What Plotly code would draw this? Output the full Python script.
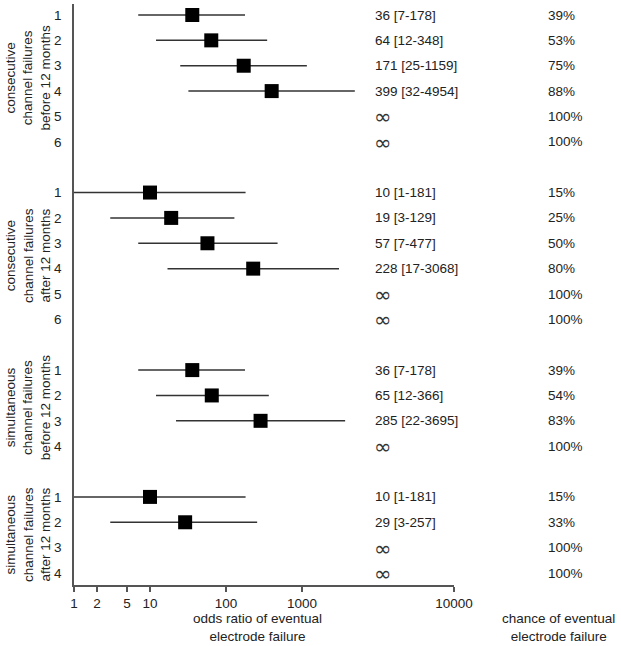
import plotly.graph_objects as go

# ---------------- data ----------------
group_labels = [
    "consecutive<br>channel failures<br>before 12 months",
    "consecutive<br>channel failures<br>after 12 months",
    "simultaneous<br>channel failures<br>before 12 months",
    "simultaneous<br>channel failures<br>after 12 months",
]
# None = infinite odds ratio
g1_or = [36, 64, 171, 399, None, None]
g1_lo = [7, 12, 25, 32, None, None]
g1_hi = [178, 348, 1159, 4954, None, None]
g1_pct = [39, 53, 75, 88, 100, 100]

g2_or = [10, 19, 57, 228, None, None]
g2_lo = [1, 3, 7, 17, None, None]
g2_hi = [181, 129, 477, 3068, None, None]
g2_pct = [15, 25, 50, 80, 100, 100]

g3_or = [36, 65, 285, None]
g3_lo = [7, 12, 22, None]
g3_hi = [178, 366, 3695, None]
g3_pct = [39, 54, 83, 100]

g4_or = [10, 29, None, None]
g4_lo = [1, 3, None, None]
g4_hi = [181, 257, None, None]
g4_pct = [15, 33, 100, 100]

x_tick_values = [1, 2, 5, 10, 100, 1000, 100000]
x_tick_labels = ["1", "2", "5", "10", "100", "1000", "10000"]
x_title = "odds ratio of eventual<br>electrode failure"
pct_title = "chance of eventual<br>electrode failure"

groups = [
    (g1_or, g1_lo, g1_hi, g1_pct),
    (g2_or, g2_lo, g2_hi, g2_pct),
    (g3_or, g3_lo, g3_hi, g3_pct),
    (g4_or, g4_lo, g4_hi, g4_pct),
]

# ---------------- build ----------------
FONT = "Liberation Sans, Arial, sans-serif"
TXT = "#222222"
AX = "#555555"
W, H = 621, 646
L, R, T, B = 74, 167, 4, 61
PW = W - L - R
PH = H - T - B


def px_x(px):
    return (px - L) / PW


def px_y(py):
    return 1 - (py - T) / PH


fig = go.Figure()

slot = 0
ytickvals, yticktext = [], []
pts_x, pts_y, err_p, err_m = [], [], [], []
annotations = []
for gi, (orv, lo, hi, pct) in enumerate(groups):
    start = slot
    for i in range(len(orv)):
        ytickvals.append(slot)
        yticktext.append(str(i + 1))
        if orv[i] is not None:
            pts_x.append(orv[i])
            pts_y.append(slot)
            err_p.append(hi[i] - orv[i])
            err_m.append(orv[i] - lo[i])
            label = f"{orv[i]} [{lo[i]}-{hi[i]}]"
            annotations.append(dict(x=px_x(373), y=slot, xref="paper", yref="y",
                                    text=label, showarrow=False, xanchor="left",
                                    yanchor="middle", font=dict(size=13.5, color=TXT)))
        else:
            annotations.append(dict(x=px_x(372), y=slot + 0.04, xref="paper", yref="y",
                                    text="∞", showarrow=False, xanchor="left",
                                    yanchor="middle", font=dict(size=21, color="#333333",
                                                                family="DejaVu Sans")))
        annotations.append(dict(x=px_x(546), y=slot, xref="paper", yref="y",
                                text=f"{pct[i]}%", showarrow=False, xanchor="left",
                                yanchor="middle", font=dict(size=13.5, color=TXT)))
        slot += 1
    end = slot - 1
    annotations.append(dict(x=px_x(28), y=(start + end) / 2, xref="paper", yref="y",
                            text=group_labels[gi], showarrow=False, textangle=-90,
                            xanchor="center", yanchor="middle",
                            font=dict(size=13.5, color=TXT)))
    slot += 1  # blank row between groups

n_slots = slot - 1

fig.add_trace(go.Scatter(
    x=pts_x, y=pts_y, mode="markers",
    marker=dict(symbol="square", size=14, color="black"),
    error_x=dict(type="data", symmetric=False, array=err_p, arrayminus=err_m,
                 width=0, thickness=1.5, color="#333333"),
    showlegend=False, cliponaxis=False,
))

annotations.append(dict(x=px_x(257), y=px_y(627), xref="paper", yref="paper",
                        text=x_title, showarrow=False, xanchor="center",
                        yanchor="middle", font=dict(size=13.5, color=TXT)))
annotations.append(dict(x=px_x(558), y=px_y(627), xref="paper", yref="paper",
                        text=pct_title, showarrow=False, xanchor="center",
                        yanchor="middle", font=dict(size=13.5, color=TXT)))

row_px = (573 - 15) / (n_slots - 1)
top_pad = (15 - T) / row_px
bot_pad = (585 - 573) / row_px

fig.update_layout(
    width=W, height=H,
    margin=dict(l=L, r=R, t=T, b=B, pad=0),
    paper_bgcolor="white", plot_bgcolor="white",
    font=dict(family=FONT, size=13.5, color=TXT),
    showlegend=False,
    annotations=annotations,
    xaxis=dict(type="log", range=[0, 5], tickvals=x_tick_values, ticktext=x_tick_labels,
               showgrid=False, zeroline=False, showline=True, linecolor=AX, linewidth=1.5,
               ticks="outside", ticklen=5, tickcolor=AX, tickwidth=1.5,
               tickfont=dict(size=13.5, color=TXT)),
    yaxis=dict(range=[n_slots - 1 + bot_pad, -top_pad], tickvals=ytickvals,
               ticktext=yticktext, showgrid=False, zeroline=False, showline=True,
               linecolor=AX, linewidth=1.5, ticks="", ticklabelstandoff=8,
               tickfont=dict(size=13.5, color=TXT)),
)

fig.write_html("out.html", config={"displayModeBar": False},
               post_script="document.body.style.margin='0';")
